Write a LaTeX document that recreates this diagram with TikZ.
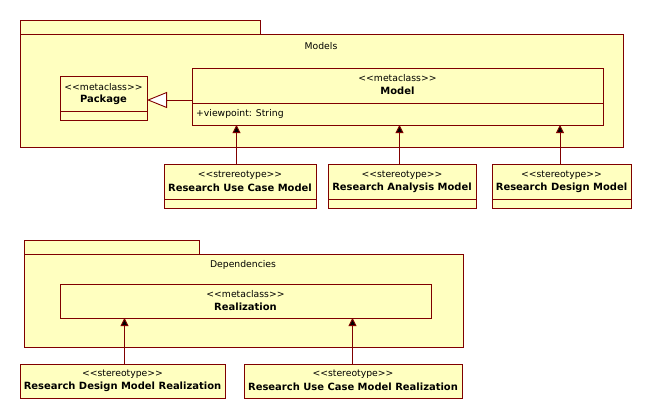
\documentclass[tikz,border=0pt]{standalone}
\usepackage{fontspec}
\setmainfont{DejaVu Sans}
\usetikzlibrary{arrows.meta}
\definecolor{umlfill}{RGB}{255,255,192}
\definecolor{umlline}{RGB}{128,0,0}
\newcommand\stlt{<\kern0pt<}
\newcommand\stgt{>\kern0pt>}
\tikzset{
  box/.style={draw=umlline,fill=umlfill,line width=0.9bp},
  txt/.style={inner sep=0pt,font=\fontsize{9.3}{11}\selectfont,text=black},
  btxt/.style={inner sep=0pt,font=\fontsize{10}{12}\selectfont\bfseries,text=black},
  gen/.style={draw=umlline,line width=0.9bp,-{Triangle[open,length=20bp,width=16bp,fill=white]}},
  ext/.style={draw=umlline,line width=0.9bp,-{Triangle[length=8bp,width=8bp,fill=black]}},
}
\begin{document}
\begin{tikzpicture}[x=1bp,y=-1bp]
\useasboundingbox (0,0) rectangle (652,418);
% Models package
\draw[box] (20,20) rectangle (260,34);
\draw[box] (20,34) rectangle (623,147);
\node[txt] (modelsLbl) at (321,46) {Models};
% Package class
\draw[box] (60,76) rectangle (147,120);
\draw[umlline,line width=0.9bp] (60,111) -- (147,111);
\coordinate (pkgR) at (147,100);
\node[txt] (pkgS) at (103.5,87) {\stlt metaclass\stgt};
\node[btxt] (pkgN) at (103.5,100) {Package};
% Model class
\draw[box] (192,68) rectangle (603,125);
\draw[umlline,line width=0.9bp] (192,103) -- (603,103);
\coordinate (modL) at (192,100);
\node[txt] (modS) at (397.5,78) {\stlt metaclass\stgt};
\node[btxt] (modN) at (397.5,91) {Model};
\node[txt,anchor=west] (modA) at (196,114) {+viewpoint: String};
\draw[gen] (modL) -- (pkgR);
% stereotype boxes
\draw[box] (164,164) rectangle (316,208);
\draw[umlline,line width=0.9bp] (164,199) -- (316,199);
\node[txt] (s1) at (240,175) {\stlt strereotype\stgt};
\node[btxt] (n1) at (240,188) {Research Use Case Model};
\draw[box] (328,164) rectangle (476,208);
\draw[umlline,line width=0.9bp] (328,199) -- (476,199);
\node[txt] (s2) at (402,175) {\stlt stereotype\stgt};
\node[btxt] (n2) at (402,188) {Research Analysis Model};
\draw[box] (492,164) rectangle (631,208);
\draw[umlline,line width=0.9bp] (492,199) -- (631,199);
\node[txt] (s3) at (561.5,175) {\stlt stereotype\stgt};
\node[btxt] (n3) at (561.5,188) {Research Design Model};
\coordinate (a1t) at (236.5,164);
\coordinate (a1h) at (236.5,125);
\coordinate (a2t) at (399.5,164);
\coordinate (a2h) at (399.5,125);
\coordinate (a3t) at (560,164);
\coordinate (a3h) at (560,125);
\draw[ext] (a1t) -- (a1h);
\draw[ext] (a2t) -- (a2h);
\draw[ext] (a3t) -- (a3h);
% Dependencies package
\draw[box] (24,240) rectangle (199,254);
\draw[box] (24,254) rectangle (463,347);
\node[txt] (depLbl) at (243,265) {Dependencies};
\draw[box] (60,284) rectangle (431,318);
\node[txt] (realS) at (245.5,294) {\stlt metaclass\stgt};
\node[btxt] (realN) at (245.5,307) {Realization};
\draw[box] (20,364) rectangle (225,398);
\node[txt] (s4) at (122.5,374) {\stlt stereotype\stgt};
\node[btxt] (n4) at (122.5,387) {Research Design Model Realization};
\draw[box] (244,364) rectangle (462,398);
\node[txt] (s5) at (353,374) {\stlt stereotype\stgt};
\node[btxt] (n5) at (353,387) {Research Use Case Model Realization};
\coordinate (b1t) at (124.5,364);
\coordinate (b1h) at (124.5,318);
\coordinate (b2t) at (352.5,364);
\coordinate (b2h) at (352.5,318);
\draw[ext] (b1t) -- (b1h);
\draw[ext] (b2t) -- (b2h);
\end{tikzpicture}
\end{document}
